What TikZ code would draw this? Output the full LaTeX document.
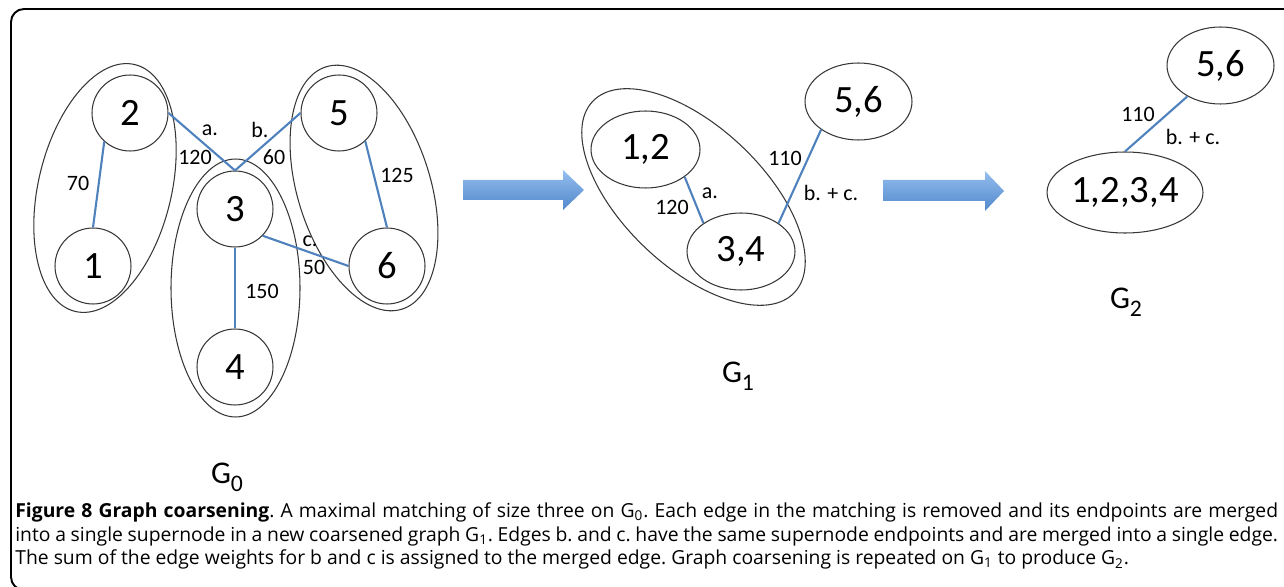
\documentclass[tikz,border=0pt]{standalone}
\usepackage{fontspec}
\newfontfamily\lblfont{Carlito}
\newfontfamily\capfont{Open Sans}
\usetikzlibrary{positioning,arrows.meta,shapes.geometric}
\definecolor{edgeblue}{RGB}{79,129,189}
\definecolor{rimgray}{RGB}{55,55,55}
\definecolor{arrowtop}{RGB}{148,190,238}
\definecolor{arrowbot}{RGB}{82,136,204}

\tikzset{
  vtx/.style={draw=rimgray, line width=0.6pt, circle, minimum size=1.52cm, inner sep=0pt,
    font=\lblfont\fontsize{22}{24}\selectfont},
  supv/.style={draw=rimgray, line width=0.6pt, ellipse, inner sep=0pt, minimum height=1.54cm,
    font=\lblfont\fontsize{22}{24}\selectfont},
  grp/.style={draw=rimgray, line width=0.6pt, ellipse, inner sep=0pt},
  wedge/.style={draw=edgeblue, line width=1.2pt},
  wlbl/.style={font=\lblfont\fontsize{12.5}{14}\selectfont, inner sep=0pt},
  glbl/.style={font=\lblfont\fontsize{18}{20}\selectfont, inner sep=0pt},
  coarsen/.style={top color=arrowtop, bottom color=arrowbot, draw=none}
}
\def\Gsub#1{G\raisebox{-0.16cm}{\fontsize{13.5}{14}\selectfont #1}}

\begin{document}
\begin{tikzpicture}[x=0.02cm,y=-0.02cm,>=Stealth]

\clip (0,0) rectangle (1284,587);
\draw[line width=1.1pt, rounded corners=0.26cm] (11,9) rectangle (1330,590);

% G0: vertices and matched pairs
\foreach \n/\x/\y in {1/93/266, 2/130/113, 3/235/209, 4/235/367, 5/339/113, 6/387/266}{
  \node[vtx] (v\n) at (\x,\y) {\n};
}
\node[grp, minimum width=5.08cm, minimum height=2.66cm, rotate=76.4] (g12) at (105,188) {};
\node[grp, minimum width=2.58cm, minimum height=5.16cm] (g34) at (235.5,288) {};
\node[grp, minimum width=5.08cm, minimum height=2.66cm, rotate=107.4] (g56) at (364,188) {};

\foreach \a/\b in {v2.228/v1.north, v2.east/v3.north, v5.west/v3.north,
                   v5.313/v6.north, v3.316/v6.west, v3.south/v4.north}{
  \draw[wedge] (\a) -- (\b);
}

\node[wlbl] (w21) at (78,183) {70};
\node[wlbl] (la) at (210,130) {a.};
\node[wlbl] (w23) at (195,157) {120};
\node[wlbl] (lb) at (260,130) {b.};
\node[wlbl] (w53) at (274,157) {60};
\node[wlbl] (w56) at (397,175) {125};
\node[wlbl] (lc) at (310,241) {c.};
\node[wlbl] (w36) at (314,267) {50};
\node[wlbl] (w34) at (262,291) {150};
\node[glbl] (gz) at (227,477) {\Gsub{0}};

\shade[coarsen] (463,180) -- (563,180) -- (563,170) -- (584,190) -- (563,210) -- (563,200) -- (463,200) -- cycle;

% G1
\node[supv, minimum width=2.18cm] (s12) at (645.5,149.5) {1,2};
\node[supv, minimum width=2.16cm] (s34) at (741,251.5) {3,4};
\node[supv, minimum width=2.14cm] (s56) at (858.5,101.5) {5,6};
\node[grp, minimum width=5.56cm, minimum height=2.8cm, rotate=-43.5] (g1234) at (693.5,197) {};

\draw[wedge] (s12.325) -- (s34.143);
\draw[wedge] (s34.37) -- (s56.217);

\node[wlbl] (w1) at (672,207) {120};
\node[wlbl] (la1) at (710,193) {a.};
\node[wlbl] (w2) at (785,158) {110};
\node[wlbl] (lbc1) at (831,193) {b. + c.};
\node[glbl] (gone) at (738,376) {\Gsub{1}};

\shade[coarsen] (883,180) -- (985,180) -- (985,171) -- (1004,191) -- (985,211) -- (985,201) -- (883,201) -- cycle;

% G2
\node[supv, minimum width=3.12cm, minimum height=1.62cm] (t1234) at (1125,192.5) {1,2,3,4};
\node[supv, minimum width=2.14cm] (t56) at (1220.5,65.5) {5,6};
\draw[wedge] (t1234.north) -- (t56.223);

\node[wlbl] (w3) at (1138,114) {110};
\node[wlbl] (lbc2) at (1193,137) {b. + c.};
\node[glbl] (gtwo) at (1126,302) {\Gsub{2}};

% caption
\node[anchor=north west, inner sep=0pt, text width=25.26cm, align=justify,
      font=\capfont\fontsize{11}{13.6}\selectfont\frenchspacing] (cap) at (15,502)
{\textbf{Figure 8 Graph coarsening}. A maximal matching of size three on G\textsubscript{0}. Each edge in the matching is removed and its endpoints are merged\linebreak
into a single supernode in a new coarsened graph G\textsubscript{1}. Edges b. and c. have the same supernode endpoints and are merged into a single edge.\linebreak
The sum of the edge weights for b and c is assigned to the merged edge. Graph coarsening is repeated on G\textsubscript{1} to produce G\textsubscript{2}.};

\end{tikzpicture}
\end{document}
